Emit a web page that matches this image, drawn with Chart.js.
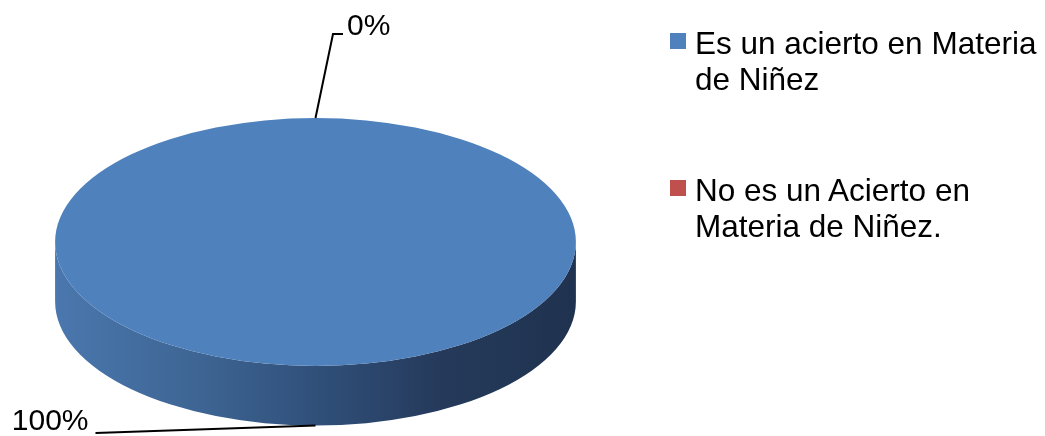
<!DOCTYPE html>
<html lang="es">
<head>
<meta charset="utf-8">
<title>Acierto en Materia de Niñez</title>
<script src="https://cdn.jsdelivr.net/npm/chart.js@4/dist/chart.umd.min.js"></script>
<style>
  html, body { margin: 0; background: #fff; }
  .wrap { position: relative; width: 1045px; height: 436px; }
  #legend {
    position: absolute; left: 670px; top: 25px;
    font-family: 'Liberation Sans', Arial, sans-serif;
    font-size: 31.5px; line-height: 36px; color: #000;
  }
  .item { position: relative; padding-left: 25px; width: 352px; }
  .item + .item { margin-top: 75px; }
  .swatch { position: absolute; left: 0; top: 8px; width: 16px; height: 16px; }
</style>
</head>
<body>
<div class="wrap">
  <canvas id="pieChart"></canvas>
  <div id="legend"></div>
</div>
<script>
const labels = ['Es un acierto en Materia de Niñez', 'No es un Acierto en Materia de Niñez.'];
const values = [100, 0];
const colors = ['#4f81bd', '#c0504d'];

// top face is stretched sideways, wall height is a share of the radius
const TILT = 2.1;
const DEPTH = 0.48;
const LABEL_FONT = '30px "Liberation Sans", Arial, sans-serif';

// leader line placement for each data label, relative to its anchor on the pie
const leaders = [
  { points: [[-220, 7.5]], text: [-7, -3], align: 'right' },
  { points: [[17.5, -84], [27.5, -84]], text: [4, 1], align: 'left' }
];

function wallGradient(ctx, x0, x1) {
  const g = ctx.createLinearGradient(x0, 0, x1, 0);
  g.addColorStop(0, '#4a77ae');
  g.addColorStop(0.25, '#3f6796');
  g.addColorStop(0.5, '#30507a');
  g.addColorStop(0.75, '#25395a');
  g.addColorStop(1, '#1f3350');
  return g;
}

// visible part of the outer wall: the front half, angles 0..PI
function frontRange(start, end) {
  for (const shift of [0, -2 * Math.PI, 2 * Math.PI]) {
    const a0 = Math.max(start + shift, 0);
    const a1 = Math.min(end + shift, Math.PI);
    if (a1 > a0) return [a0, a1];
  }
  return null;
}

const pie3d = {
  id: 'pie3d',
  beforeDatasetsDraw(chart) {
    const ctx = chart.ctx;
    const arcs = chart.getDatasetMeta(0).data;

    arcs.forEach((arc) => {
      const { x, y, startAngle, endAngle, outerRadius } = arc;
      const rx = outerRadius * TILT;
      const ry = outerRadius;
      const depth = outerRadius * DEPTH;
      const range = frontRange(startAngle, endAngle);
      if (!range) return;
      ctx.save();
      ctx.beginPath();
      ctx.ellipse(x, y + depth, rx, ry, 0, range[0], range[1], false);
      ctx.ellipse(x, y, rx, ry, 0, range[1], range[0], true);
      ctx.closePath();
      ctx.fillStyle = wallGradient(ctx, x - rx, x + rx);
      ctx.fill();
      ctx.restore();
    });

    arcs.forEach((arc, i) => {
      const { x, y, startAngle, endAngle, outerRadius } = arc;
      if (endAngle - startAngle <= 0) return;
      ctx.save();
      ctx.beginPath();
      ctx.moveTo(x, y);
      ctx.ellipse(x, y, outerRadius * TILT, outerRadius, 0, startAngle, endAngle, false);
      ctx.closePath();
      ctx.fillStyle = colors[i];
      ctx.fill();
      ctx.restore();
    });

    return false;
  },
  afterDraw(chart) {
    const ctx = chart.ctx;
    const arcs = chart.getDatasetMeta(0).data;
    const total = values.reduce((a, b) => a + b, 0);

    arcs.forEach((arc, i) => {
      const { x, y, startAngle, endAngle, outerRadius } = arc;
      const mid = (startAngle + endAngle) / 2;
      const depth = Math.sin(mid) > 0 ? outerRadius * DEPTH : 0;
      const ax = x + Math.cos(mid) * outerRadius * TILT;
      const ay = y + Math.sin(mid) * outerRadius + depth;
      const leader = leaders[i];
      const pts = leader.points.map(([dx, dy]) => [ax + dx, ay + dy]);
      const last = pts[pts.length - 1];

      ctx.save();
      ctx.strokeStyle = '#000';
      ctx.lineWidth = 2;
      ctx.beginPath();
      ctx.moveTo(ax, ay);
      pts.forEach(([px, py]) => ctx.lineTo(px, py));
      ctx.stroke();

      ctx.font = LABEL_FONT;
      ctx.fillStyle = '#000';
      ctx.textAlign = leader.align;
      ctx.textBaseline = 'alphabetic';
      const pct = Math.round(values[i] / total * 100);
      ctx.fillText(pct + '%', last[0] + leader.text[0], last[1] + leader.text[1]);
      ctx.restore();
    });
  }
};

new Chart(document.getElementById('pieChart'), {
  type: 'pie',
  data: {
    labels,
    datasets: [{
      data: values,
      backgroundColor: colors,
      borderWidth: 0
    }]
  },
  options: {
    responsive: true,
    maintainAspectRatio: false,
    animation: false,
    layout: { padding: { left: 54, right: 468, top: 118, bottom: 70 } },
    plugins: {
      legend: { display: false },
      tooltip: { enabled: false }
    }
  },
  plugins: [pie3d]
});

// legend built from the same labels and colours
const legendEl = document.getElementById('legend');
labels.forEach((label, i) => {
  const item = document.createElement('div');
  item.className = 'item';
  const swatch = document.createElement('span');
  swatch.className = 'swatch';
  swatch.style.background = colors[i];
  item.appendChild(swatch);
  item.appendChild(document.createTextNode(label));
  legendEl.appendChild(item);
});
</script>
</body>
</html>
